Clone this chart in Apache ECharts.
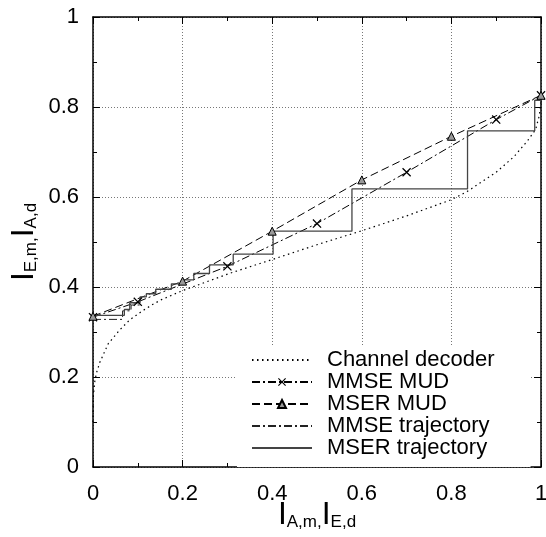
<!DOCTYPE html>
<html>
<head>
<meta charset="utf-8">
<script src="https://cdn.jsdelivr.net/npm/echarts@6/dist/echarts.min.js"></script>
<style>
html, body { margin: 0; padding: 0; background: #fff; }
#chartContent { width: 546px; height: 537px; }
</style>
</head>
<body>
<div id="chartContent"></div>
<script>
// tick labels
var tickLabels = ['0', '0.2', '0.4', '0.6', '0.8', '1'];
// channel decoder (dotted curve)
var decoderX = [0, 0.001, 0.004, 0.008, 0.015, 0.034, 0.06, 0.082, 0.109, 0.131, 0.153, 0.2, 0.307, 0.4, 0.5, 0.6, 0.7, 0.8, 0.835, 0.9, 0.94, 0.97, 0.988, 0.996, 1.0];
var decoderY = [0.1, 0.16, 0.19, 0.21, 0.232, 0.274, 0.305, 0.327, 0.346, 0.36, 0.372, 0.392, 0.431, 0.461, 0.494, 0.525, 0.558, 0.594, 0.612, 0.655, 0.69, 0.725, 0.75, 0.78, 0.81];
// MMSE MUD (dash-dot, x markers)
var mmseMudX = [0, 0.1, 0.3, 0.5, 0.7, 0.9, 1.0];
var mmseMudY = [0.333, 0.367, 0.446, 0.541, 0.655, 0.772, 0.826];
// MSER MUD (dashed, triangles)
var mserMudX = [0, 0.2, 0.4, 0.6, 0.8, 1.0];
var mserMudY = [0.335, 0.413, 0.524, 0.638, 0.735, 0.826];
// MMSE trajectory (dash-dot staircase)
var mmseTrajX = [0, 0.066, 0.066, 0.085, 0.085, 0.105];
var mmseTrajY = [0.328, 0.328, 0.347, 0.347, 0.36, 0.36];
// MSER trajectory (solid staircase)
var mserTrajX = [0, 0.07, 0.07, 0.082, 0.082, 0.105, 0.105, 0.119, 0.119, 0.14, 0.14, 0.175, 0.175, 0.202, 0.202, 0.225, 0.225, 0.26, 0.26, 0.313, 0.313, 0.402, 0.402, 0.578, 0.578, 0.836, 0.836, 0.986, 0.986, 1.0, 1.0];
var mserTrajY = [0.337, 0.337, 0.35, 0.35, 0.365, 0.365, 0.378, 0.378, 0.385, 0.385, 0.395, 0.395, 0.407, 0.407, 0.416, 0.416, 0.43, 0.43, 0.449, 0.449, 0.473, 0.473, 0.524, 0.524, 0.618, 0.618, 0.747, 0.747, 0.815, 0.815, 0.826];

var fontName = "'Liberation Sans', Arial, sans-serif";

function pairs(xs, ys) {
	var out = [];
	for (var i = 0; i < xs.length; i++) {
		out.push([xs[i], ys[i]]);
	}
	return out;
}

//坐标轴公共设置
function makeAxis(pos, showLabel, isX) {
	return {
		type: 'value',
		position: pos,
		min: 0,
		max: 1,
		interval: 0.2,
		nameMoveOverlap: false,
		axisLine: { show: true, onZero: false, lineStyle: { color: '#000', width: 1.5 } },
		axisTick: { show: true, inside: true, length: 7, lineStyle: { color: '#000', width: 1 } },
		minorTick: { show: true, splitNumber: 2, length: 4, lineStyle: { color: '#000', width: 1 } },
		splitLine: { show: showLabel, lineStyle: { color: '#777', type: [1, 2], width: 1 } },
		axisLabel: {
			show: showLabel,
			margin: isX ? 16 : 14,
			fontSize: 22,
			color: '#000',
			fontFamily: fontName,
			formatter: function(v) {
				return tickLabels[Math.round(v * 5)];
			}
		}
	};
}

var xMain = makeAxis('bottom', true, true);
xMain.name = '{b|I}{s|A,m,}{b|I}{s|E,d}';
xMain.nameLocation = 'middle';
xMain.nameGap = 32;
xMain.nameTextStyle = {
	fontFamily: fontName,
	rich: {
		b: { fontSize: 32, lineHeight: 32, verticalAlign: 'bottom', color: '#000', fontFamily: fontName },
		s: { fontSize: 17, lineHeight: 10, verticalAlign: 'bottom', color: '#000', fontFamily: fontName }
	}
};
var yMain = makeAxis('left', true, false);
yMain.name = '{b|I}{s|E,m,}{b|I}{s|A,d}';
yMain.nameLocation = 'middle';
yMain.nameRotate = 90;
yMain.nameGap = 53;
yMain.nameTextStyle = xMain.nameTextStyle;

// 图例：无标记的线条隐藏圆点
var noMark = { opacity: 0 };

var myChart = echarts.init(document.getElementById('chartContent'));
var option = {
	animation: false,
	backgroundColor: '#fff',
	textStyle: { fontFamily: fontName },
	grid: { left: 93, right: 5, top: 17, bottom: 70, containLabel: false, outerBoundsMode: 'none' },
	xAxis: [xMain, makeAxis('top', false, true)],
	yAxis: [yMain, makeAxis('right', false, false)],
	legend: {
		orient: 'vertical',
		left: 237,
		top: 346,
		padding: [3, 36, 8, 14],
		itemGap: 0,
		itemWidth: 60,
		itemHeight: 10,
		backgroundColor: '#fff',
		textStyle: { fontSize: 22, lineHeight: 22, color: '#000', fontFamily: fontName, padding: [0, 0, 0, 10] },
		data: [
			{ name: 'Channel decoder', itemStyle: noMark },
			'MMSE MUD',
			'MSER MUD',
			{ name: 'MMSE trajectory', itemStyle: noMark },
			{ name: 'MSER trajectory', itemStyle: noMark }
		]
	},
	series: [{
		name: 'Channel decoder',
		type: 'line',
		symbol: 'none',
		data: pairs(decoderX, decoderY),
		lineStyle: { color: '#000', width: 1.2, type: [1.5, 3.5] },
		itemStyle: { color: '#000' }
	}, {
		name: 'MMSE MUD',
		type: 'line',
		symbol: 'path://M0,1L1,0L5,4L9,0L10,1L6,5L10,9L9,10L5,6L1,10L0,9L4,5Z',
		symbolSize: 9,
		data: pairs(mmseMudX, mmseMudY),
		lineStyle: { color: '#000', width: 1, type: [8, 3, 2, 3] },
		itemStyle: { color: '#000' }
	}, {
		name: 'MSER MUD',
		type: 'line',
		symbol: 'triangle',
		symbolSize: 8,
		data: pairs(mserMudX, mserMudY),
		lineStyle: { color: '#000', width: 1, type: [8, 4] },
		itemStyle: { color: '#999', borderColor: '#000', borderWidth: 1 }
	}, {
		name: 'MMSE trajectory',
		type: 'line',
		symbol: 'none',
		data: pairs(mmseTrajX, mmseTrajY),
		lineStyle: { color: '#222', width: 1, type: [8, 3, 2, 3] },
		itemStyle: { color: '#222' }
	}, {
		name: 'MSER trajectory',
		type: 'line',
		symbol: 'none',
		data: pairs(mserTrajX, mserTrajY),
		lineStyle: { color: '#444', width: 1.3 },
		itemStyle: { color: '#444' }
	}]
};
myChart.setOption(option);
</script>
</body>
</html>
